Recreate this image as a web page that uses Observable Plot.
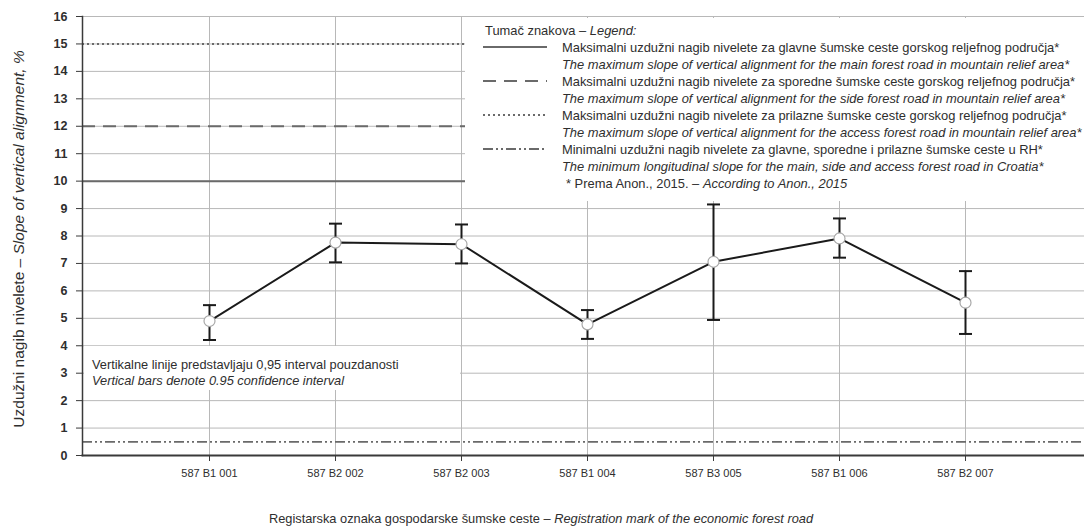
<!DOCTYPE html>
<html>
<head>
<meta charset="utf-8">
<script src="https://cdn.jsdelivr.net/npm/d3@7"></script>
<script src="https://cdn.jsdelivr.net/npm/@observablehq/plot@0.6"></script>
<style>
  body { margin: 0; background: #fff; }
  #chart svg { display: block; }
</style>
</head>
<body>
<div id="chart"></div>
<script>
// Registration marks of the forest roads (x categories)
const roads = ["587 B1 001", "587 B2 002", "587 B2 003", "587 B1 004", "587 B3 005", "587 B1 006", "587 B2 007"];
// Mean slope of vertical alignment, % and its 0.95 confidence interval
const meanSlope = [4.90, 7.76, 7.70, 4.78, 7.06, 7.91, 5.57];
const ciLow     = [4.21, 7.04, 7.00, 4.25, 4.94, 7.21, 4.43];
const ciHigh    = [5.48, 8.45, 8.42, 5.30, 9.15, 8.64, 6.72];
// Y axis ticks
const yTicks = [0, 1, 2, 3, 4, 5, 6, 7, 8, 9, 10, 11, 12, 13, 14, 15, 16];
// Regulatory slope limits (Anon., 2015)
const limitMain = 10, limitSide = 12, limitAccess = 15, limitMin = 0.5;

const legendTitle = ["Tumač znakova – ", "Legend:"];
const legendRows = [
  ["Maksimalni uzdužni nagib nivelete za glavne šumske ceste gorskog reljefnog područja*", "The maximum slope of vertical alignment for the main forest road in mountain relief area*"],
  ["Maksimalni uzdužni nagib nivelete za sporedne šumske ceste gorskog reljefnog područja*", "The maximum slope of vertical alignment for the side forest road in mountain relief area*"],
  ["Maksimalni uzdužni nagib nivelete za prilazne šumske ceste gorskog reljefnog područja*", "The maximum slope of vertical alignment for the access forest road in mountain relief area*"],
  ["Minimalni uzdužni nagib nivelete za glavne, sporedne i prilazne šumske ceste u RH*", "The minimum longitudinal slope for the main, side and access forest road in Croatia*"]
];
const legendNote = ["* Prema Anon., 2015. – ", "According to Anon., 2015"];
const ciNote = ["Vertikalne linije predstavljaju 0,95 interval pouzdanosti", "Vertical bars denote 0.95 confidence interval"];
const yTitle = ["Uzdužni nagib nivelete – ", "Slope of vertical alignment, %"];
const xTitle = ["Registarska oznaka gospodarske šumske ceste – ", "Registration mark of the economic forest road"];

const FONT = '"Liberation Sans", Arial, sans-serif';
const refStyles = [
  {y: limitMain,   dash: null,             w: 2},
  {y: limitSide,   dash: "13,8",           w: 2},
  {y: limitAccess, dash: "2,3",            w: 2},
  {y: limitMin,    dash: "10,3,2,3,2,3",   w: 1.8}
];
const REF_COLOR = "#6a6a6a";
const TEXT_COLOR = "#2e2e2e";

const data = roads.map((road, i) => ({road, mean: meanSlope[i], lo: ciLow[i], hi: ciHigh[i]}));

// horizontal cap for the confidence bars
const cap = {draw(ctx) { ctx.moveTo(-6.5, 0); ctx.lineTo(6.5, 0); }};

// white panels holding the legend and the CI note, drawn over the grid
function panels() {
  const g = d3.create("svg:g").attr("font-family", FONT).attr("text-anchor", "start");
  g.append("rect").attr("x", 465).attr("y", 18).attr("width", 619).attr("height", 183).attr("fill", "#fff");
  g.append("rect").attr("x", 84).attr("y", 346).attr("width", 376).attr("height", 44).attr("fill", "#fff");

  const txt = g.append("g").attr("fill", TEXT_COLOR);
  const fs = 12.9;
  const t = txt.append("text").attr("x", 485).attr("y", 30).attr("dy", "0.35em").attr("font-size", fs);
  t.append("tspan").text(legendTitle[0]);
  t.append("tspan").attr("font-style", "italic").text(legendTitle[1]);

  const step = 17;
  legendRows.forEach((row, i) => {
    const y = 30 + step * (1 + 2 * i);
    g.append("line").attr("x1", 483).attr("x2", 547).attr("y1", y).attr("y2", y)
      .attr("stroke", REF_COLOR).attr("stroke-width", refStyles[i].w)
      .attr("stroke-dasharray", refStyles[i].dash);
    txt.append("text").attr("x", 562).attr("y", y).attr("dy", "0.35em").attr("font-size", fs).text(row[0]);
    txt.append("text").attr("x", 562).attr("y", y + step).attr("dy", "0.35em").attr("font-size", fs)
      .attr("font-style", "italic").text(row[1]);
  });
  const n = txt.append("text").attr("x", 566).attr("y", 30 + step * 9).attr("dy", "0.35em").attr("font-size", fs);
  n.append("tspan").text(legendNote[0]);
  n.append("tspan").attr("font-style", "italic").text(legendNote[1]);

  txt.append("text").attr("x", 92).attr("y", 365).attr("dy", "0.35em").attr("font-size", 12.8).text(ciNote[0]);
  txt.append("text").attr("x", 92).attr("y", 381).attr("dy", "0.35em").attr("font-size", 12.8)
    .attr("font-style", "italic").text(ciNote[1]);
  return g.node();
}

// axis titles with the English part in italics
function titles() {
  const g = d3.create("svg:g").attr("font-family", FONT).attr("fill", TEXT_COLOR).attr("text-anchor", "middle");
  const yt = g.append("text").attr("font-size", 15.5)
    .attr("transform", "translate(19,239) rotate(-90)").attr("dy", "0.35em");
  yt.append("tspan").text(yTitle[0]);
  yt.append("tspan").attr("font-style", "italic").text(yTitle[1]);
  const xt = g.append("text").attr("font-size", 12.8).attr("x", 541).attr("y", 519).attr("dy", "0.35em");
  xt.append("tspan").text(xTitle[0]);
  xt.append("tspan").attr("font-style", "italic").text(xTitle[1]);
  return g.node();
}

const chart = Plot.plot({
  width: 1084,
  height: 527,
  marginLeft: 82,
  marginRight: 0,
  marginTop: 16,
  marginBottom: 72,
  style: {fontFamily: FONT, background: "#fff", color: TEXT_COLOR},
  x: {type: "point", domain: roads, range: [207, 967], padding: 0},
  y: {domain: [0, 16]},
  marks: [
    Plot.gridY(yTicks, {stroke: "#b8b8b8", strokeOpacity: 1}),
    Plot.gridX(roads, {stroke: "#b8b8b8", strokeOpacity: 1}),
    ...refStyles.map(s => Plot.ruleY([s.y], {stroke: REF_COLOR, strokeWidth: s.w, strokeDasharray: s.dash})),
    panels,
    Plot.frame({anchor: "left", stroke: "#3a3a3a", strokeWidth: 1.5}),
    Plot.frame({anchor: "bottom", stroke: "#3a3a3a", strokeWidth: 2}),
    Plot.axisY(yTicks, {tickSize: 6, tickPadding: 9, fontSize: 12.5, fontWeight: "bold", label: null, stroke: "#3a3a3a"}),
    Plot.axisX(roads, {tickSize: 6, tickPadding: 8, fontSize: 11, label: null, stroke: "#3a3a3a"}),
    Plot.ruleX(data, {x: "road", y1: "lo", y2: "hi", stroke: "#1a1a1a", strokeWidth: 2}),
    Plot.dot(data, {x: "road", y: "lo", symbol: cap, stroke: "#1a1a1a", strokeWidth: 2, fill: "none"}),
    Plot.dot(data, {x: "road", y: "hi", symbol: cap, stroke: "#1a1a1a", strokeWidth: 2, fill: "none"}),
    Plot.line(data, {x: "road", y: "mean", stroke: "#1a1a1a", strokeWidth: 2}),
    Plot.dot(data, {x: "road", y: "mean", r: 5.5, fill: "#fff", stroke: "#a8a8a8", strokeWidth: 1.2}),
    titles
  ]
});
document.getElementById("chart").append(chart);
</script>
</body>
</html>
